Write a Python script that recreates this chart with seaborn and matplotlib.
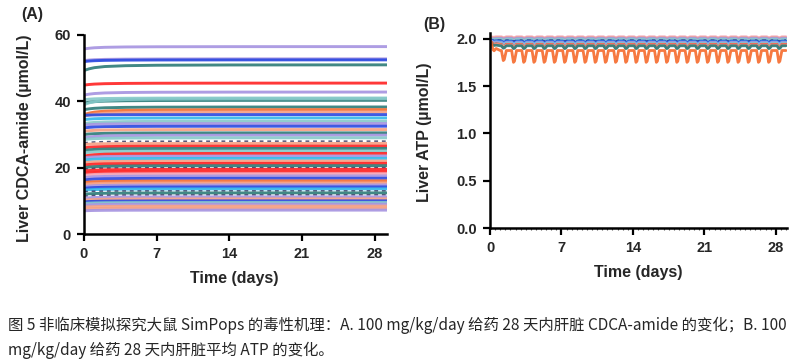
import numpy as np
import pandas as pd
import seaborn as sns
import matplotlib.pyplot as plt

# Panel A: liver CDCA-amide per virtual rat (umol/L), value at day 0 and plateau
cdca_start = [55.8, 52.3, 52.0, 49.3, 44.9, 41.9, 40.5, 39.5, 39.0, 37.5, 36.0, 35.5, 35.8, 34.5,
              33.3, 32.8, 32.0, 31.0, 30.0, 29.0, 28.5, 27.5, 27.0, 26.0, 25.2, 24.5, 23.5, 23.0,
              22.3, 21.5, 20.8, 20.0, 19.5, 19.0, 18.3, 17.7, 17.0, 16.3, 15.5, 15.0, 14.3, 13.8,
              13.2, 12.8, 12.0, 11.4, 10.8, 10.2, 9.7, 9.2, 8.7, 8.1, 7.5, 7.0]
cdca_end = [56.5, 52.8, 52.5, 51.0, 45.5, 42.8, 41.0, 40.3, 40.8, 38.3, 37.5, 36.8, 36.0, 35.0,
            34.0, 33.3, 32.5, 31.5, 30.5, 29.8, 29.0, 28.0, 27.3, 26.5, 25.8, 25.0, 24.3, 23.5,
            22.8, 22.0, 21.3, 20.6, 20.0, 19.5, 18.8, 18.2, 17.5, 16.8, 16.0, 15.4, 14.8, 14.2,
            13.6, 13.0, 12.4, 11.8, 11.2, 10.6, 10.0, 9.5, 9.0, 8.4, 7.8, 7.2]
# shared approach to plateau
rise_days = [0, 0.5, 1, 2, 4, 7, 14, 29.2]
rise_frac = [0, 0.3, 0.5, 0.7, 0.85, 0.93, 0.98, 1.0]

# Panel B: liver ATP per virtual rat (umol/L): baseline and depth of daily dip
atp_base = [2.02, 2.01, 2.005, 1.995, 1.985, 1.975, 1.965, 1.96, 1.95, 1.94, 1.935, 1.925, 1.875]
atp_start = [2.02, 2.01, 2.00, 2.00, 1.99, 1.99, 1.98, 1.98, 1.97, 1.97, 1.96, 1.96, 1.98]
atp_dip = [0.01, 0.01, 0.01, 0.015, 0.01, 0.015, 0.02, 0.02, 0.02, 0.035, 0.03, 0.03, 0.125]
# within-day dip shape (fraction of full dip) and first-day transient
day_offsets = [0.0, 0.12, 0.3, 0.4, 0.6, 1.0]
day_shape = [0.0, 0.0, 1.0, 0.9, 0.0, 0.0]
day0_decay = [1.0, 0.8, 0.55, 0.4, 0.2, 0.0]
dip_scale_by_day = [0.4, 0.85] + [1.0] * 27

xticks = [0, 7, 14, 21, 28]
caption1 = "图 5 非临床模拟探究大鼠 SimPops 的毒性机理：A. 100 mg/kg/day 给药 28 天内肝脏 CDCA-amide 的变化；B. 100"
caption2 = "mg/kg/day 给药 28 天内肝脏平均 ATP 的变化。"

palette = {"purple": "#a593e0", "blue": "#2a48e0", "teal": "#2c7b78", "red": "#ff2222",
           "salmon": "#f5a084", "cyan": "#32b8ea", "navy": "#1c1c4c", "lteal": "#86c9c9",
           "orange": "#f56a2c", "pink": "#f4a6b8"}
cdca_colors = ["purple", "purple", "blue", "teal", "red", "purple", "lteal", "teal", "lteal",
               "teal", "orange", "salmon", "blue", "cyan", "lteal", "purple", "blue", "salmon",
               "teal", "purple", "lteal", "navy", "salmon", "red", "teal", "lteal", "red",
               "purple", "cyan", "salmon", "red", "teal", "navy", "red", "red", "pink", "purple",
               "blue", "orange", "salmon", "purple", "blue", "cyan", "navy", "teal", "navy",
               "purple", "salmon", "blue", "lteal", "purple", "salmon", "salmon", "purple"]
atp_colors = ["pink", "salmon", "purple", "lteal", "navy", "blue", "cyan", "purple", "lteal",
              "red", "salmon", "teal", "orange"]

sns.set_theme(style="ticks")
plt.rcParams["font.family"] = ["Liberation Sans", "DejaVu Sans"]
plt.rcParams["font.weight"] = "bold"

W, H = 801, 360
fig = plt.figure(figsize=(W / 100, H / 100), dpi=100)


def px_axes(x0, x1, ytop, ybot):
    return fig.add_axes([x0 / W, 1 - ybot / H, (x1 - x0) / W, (ybot - ytop) / H])


def style_axes(ax):
    sns.despine(ax=ax)
    for s in ["left", "bottom"]:
        ax.spines[s].set_linewidth(1.8)
        ax.spines[s].set_color("black")
    ax.tick_params(axis="both", which="major", direction="out", length=5, width=1.6,
                   color="black", labelsize=10.5, pad=4.5)
    ax.set_facecolor("white")


def draw_line(ax, df, c, lw):
    if c == "navy":
        sns.lineplot(data=df, x="t", y="v", ax=ax, color=palette[c], lw=1.1,
                     dashes=False, alpha=0.75).lines[-1].set_dashes([2.5, 2.5])
    else:
        sns.lineplot(data=df, x="t", y="v", ax=ax, color=palette[c], lw=lw, alpha=0.9)


# ---- Panel A
axA = px_axes(84, 387, 35, 234)
for i, (s, e) in enumerate(zip(cdca_start, cdca_end)):
    df = pd.DataFrame({"t": rise_days, "v": [s + (e - s) * f for f in rise_frac]})
    draw_line(axA, df, cdca_colors[i], 2.1)
axA.set_xlim(0, 29.2)
axA.set_ylim(0, 60)
axA.set_xticks(xticks)
axA.set_yticks([0, 20, 40, 60])
axA.set_xlabel("Time (days)", fontsize=11.5, fontweight="bold")
axA.set_ylabel("Liver CDCA-amide (µmol/L)", fontsize=11.5, fontweight="bold")
axA.xaxis.set_label_coords(0.495, -0.186)
axA.yaxis.set_label_coords(-0.172, 0.48)
style_axes(axA)

# ---- Panel B
axB = px_axes(490, 787, 33, 228)
for i in range(len(atp_base)):
    ts, vs = [], []
    for d, sc in enumerate(dip_scale_by_day):
        offs = day_offsets[:-1] if d < len(dip_scale_by_day) - 1 else day_offsets
        for k, off in enumerate(offs):
            extra = (atp_start[i] - atp_base[i]) * day0_decay[k] if d == 0 else 0
            ts.append(d + off)
            vs.append(atp_base[i] + extra - atp_dip[i] * sc * day_shape[k])
    df = pd.DataFrame({"t": ts, "v": vs})
    draw_line(axB, df, atp_colors[i], 2.0)
axB.set_xlim(0, 29.1)
axB.set_ylim(0, 2.06)
axB.set_xticks(xticks)
axB.set_xticks(np.arange(0, 29.1, 0.5), minor=True)
axB.tick_params(axis="x", which="minor", length=1.5, width=0.8, color="#555555")
axB.set_yticks([0, 0.5, 1.0, 1.5, 2.0])
axB.set_yticklabels(["0.0", "0.5", "1.0", "1.5", "2.0"])
axB.set_xlabel("Time (days)", fontsize=11.5, fontweight="bold")
axB.set_ylabel("Liver ATP (µmol/L)", fontsize=11.5, fontweight="bold")
axB.xaxis.set_label_coords(0.50, -0.19)
axB.yaxis.set_label_coords(-0.195, 0.49)
style_axes(axB)

fig.text(21 / W, 1 - 14 / H, "(A)", fontsize=11.5, fontweight="bold", va="center", ha="left")
fig.text(423 / W, 1 - 25 / H, "(B)", fontsize=11.5, fontweight="bold", va="center", ha="left")

cap_font = ["Noto Sans CJK SC", "DejaVu Sans"]
fig.text(8 / W, 1 - 325 / H, caption1, fontsize=11.1, family=cap_font, fontweight="normal",
         va="center", ha="left")
fig.text(8 / W, 1 - 350 / H, caption2, fontsize=11.1, family=cap_font, fontweight="normal",
         va="center", ha="left")

fig.savefig("out.png", dpi=100, facecolor="white")
